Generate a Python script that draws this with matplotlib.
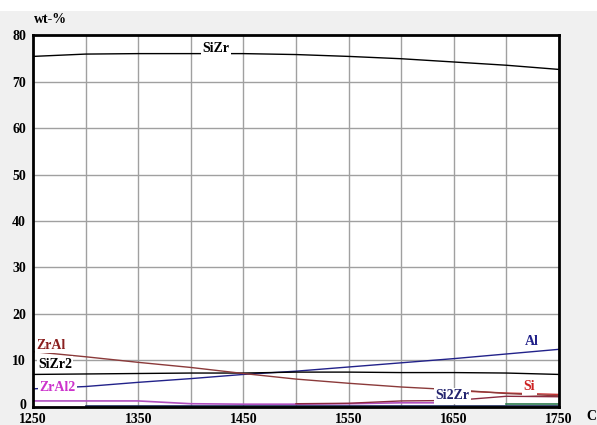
import numpy as np
import matplotlib.pyplot as plt
from matplotlib.patches import Rectangle
from matplotlib.transforms import ScaledTranslation

nan = np.nan

# temperatures (C)
temps = [1250, 1300, 1350, 1400, 1450, 1500, 1550, 1600, 1650, 1700, 1750]

# phase amounts, wt-%
sizr   = [75.4, 75.9, 76.0, 76.0, 76.0, 75.8, 75.4, 74.9, 74.2, 73.5, 72.6]
zral   = [11.9, 10.8, 9.6, 8.5, 7.2, 6.0, 5.1, 4.3, 3.7, 2.9, 2.4]
sizr2  = [7.0, 7.1, 7.2, 7.3, 7.3, 7.5, 7.5, 7.4, 7.4, 7.3, 7.0]
al     = [3.9, 4.4, 5.3, 6.1, 7.0, 7.7, 8.6, 9.5, 10.4, 11.4, 12.4]
zral2  = [1.3, 1.3, 1.3, 0.7, 0.6, 0.6, 0.7, 0.9, 0.9, nan, nan]
si2zr  = [nan, nan, nan, nan, nan, 0.7, 0.8, 1.3, 1.4, 2.3, 2.2]
si     = [nan, nan, nan, nan, nan, nan, nan, nan, 3.5, 3.0, 2.7]
other  = [nan, nan, nan, nan, nan, nan, nan, nan, nan, 0.6, 0.6]
base   = [nan, 0.2, 0.2, 0.2, 0.2, 0.2, 0.2, 0.2, 0.2, 0.2, 0.2]

xticks = [1250, 1350, 1450, 1550, 1650, 1750]
yticks = [0, 10, 20, 30, 40, 50, 60, 70, 80]

fig = plt.figure(figsize=(5.97, 4.25), dpi=100, facecolor='#f0f0f0')
fig.patches.append(Rectangle((0, 0.975), 1, 0.025, transform=fig.transFigure,
                             facecolor='white', edgecolor='none'))
ax = fig.add_axes([0.0553, 0.0424, 0.8810, 0.8752])
ax.set_facecolor('white')

# grid
for gx in range(1300, 1750, 50):
    ax.axvline(gx, color='#a0a0a0', lw=1, zorder=0)
for gy in range(10, 80, 10):
    ax.axhline(gy, color='#a0a0a0', lw=1, zorder=0)

ax.plot(temps, base, color='#1a2a5a', lw=1.2)
ax.plot(temps, other, color='#2e7d4f', lw=1.2)
ax.plot(temps, zral2, color='#b050c0', lw=1.2)
ax.plot(temps, si2zr, color='#8b2a40', lw=1)
ax.plot(temps, si, color='#c83232', lw=1)
ax.plot(temps, al, color='#22228a', lw=1)
ax.plot(temps, sizr2, color='black', lw=1)
ax.plot(temps, zral, color='#8b3a3a', lw=1)
ax.plot(temps, sizr, color='black', lw=1)

ax.set_xlim(1250, 1750)
ax.set_ylim(0, 80)
ax.set_xticks(xticks)
ax.set_yticks(yticks)
ax.tick_params(axis='x', length=0, pad=4)
ax.tick_params(axis='y', length=0, pad=5)
for lab in ax.get_xticklabels() + ax.get_yticklabels():
    lab.set_fontfamily('Liberation Serif')
    lab.set_fontweight('bold')
    lab.set_fontsize(10)
# lift the "0" a little so it clears the "1250" below it
zero = ax.get_yticklabels()[0]
zero.set_transform(zero.get_transform() + ScaledTranslation(0, 2 / 72, fig.dpi_scale_trans))
for s in ax.spines.values():
    s.set_linewidth(2)
    s.set_color('black')

font = dict(family='Liberation Serif', weight='bold', size=10, ha='center', va='center')
box = dict(facecolor='white', edgecolor='none', pad=1)
ax.text(1424, 77, 'SiZr', color='black', bbox=box, **font)
ax.text(1267, 13.3, 'ZrAl', color='#8b2020', bbox=box, **font)
ax.text(1271, 9.2, 'SiZr2', color='black', bbox=box, **font)
ax.text(1273, 4.1, 'ZrAl2', color='#cc33cc', bbox=box, **font)
ax.text(1724, 14.0, 'Al', color='#22228a', bbox=box, **font)
ax.text(1722, 4.3, 'Si', color='#cc2222', bbox=box, **font)
ax.text(1649, 2.4, 'Si2Zr', color='#22226e', bbox=box, **font)

fig.text(0.057, 0.955, 'wt-%', family='Liberation Serif', weight='bold', size=10,
         ha='left', va='center')
fig.text(0.99, 0.02, 'C', family='Liberation Serif', weight='bold', size=10,
         ha='center', va='center')

fig.savefig('out.png', dpi=100, facecolor=fig.get_facecolor())
